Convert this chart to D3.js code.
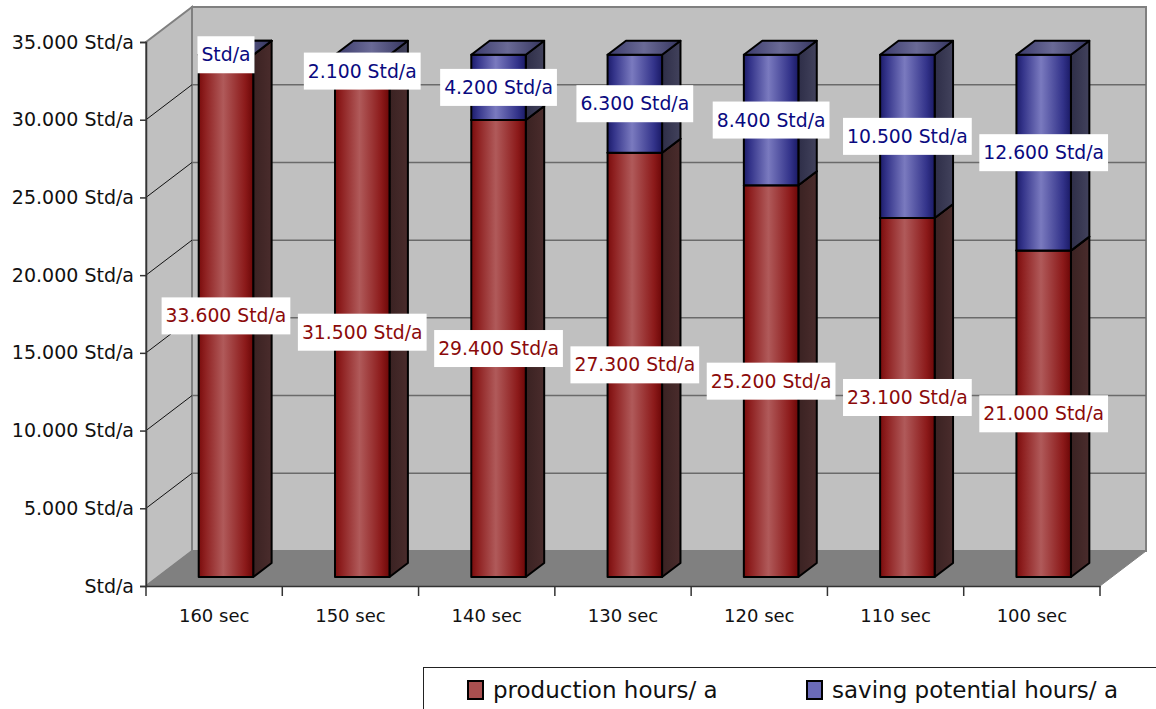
<!DOCTYPE html>
<html><head><meta charset="utf-8">
<script src="https://cdn.jsdelivr.net/npm/d3@7"></script>
<style>html,body{margin:0;padding:0;background:#fff;}svg{display:block;}</style>
</head><body>
<svg id="chart" width="1156" height="709"></svg>
<script>
const categories = ["160 sec","150 sec","140 sec","130 sec","120 sec","110 sec","100 sec"];
const production = [33600,31500,29400,27300,25200,23100,21000];
const saving = [0,2100,4200,6300,8400,10500,12600];
const yTicks = [0,5000,10000,15000,20000,25000,30000,35000];
const seriesNames = ["production hours/ a","saving potential hours/ a"];

(function () {
const svg = d3.select("#chart");
const FONT = "DejaVu Sans, Verdana, sans-serif";
const pLeft = 146, pRight = 1100, pTop = 42, pBottom = 586;
const DX = 46, DY = -35;           // full depth offset of the back wall
const d1 = 0.257, d2 = 0.657;      // bar front/back depth fractions

const x = d3.scaleBand().domain(categories).range([pLeft, pRight]).padding(0);
const y = d3.scaleLinear().domain([0, 35000]).range([pBottom, pTop]);
const P = (px, py, d) => [px + DX * d, py + DY * d];
const fmt = v => v === 0 ? "Std/a" : d3.format(",.0f")(v).replace(/,/g, ".") + " Std/a";
const pts = a => a.map(p => p.join(",")).join(" ");

// gradients
const defs = svg.append("defs");
function grad(id, stops) {
  const g = defs.append("linearGradient").attr("id", id).attr("x1", "0").attr("x2", "1").attr("y1", "0").attr("y2", "0");
  stops.forEach(s => g.append("stop").attr("offset", s[0]).attr("stop-color", s[1]));
}
grad("redFront", [[0,"#7a0c0c"],[0.12,"#8e2020"],[0.45,"#b05a5a"],[0.85,"#8c1a1a"],[1,"#6c0707"]]);
grad("blueFront", [[0,"#1c1c6a"],[0.12,"#34348a"],[0.45,"#7a7abf"],[0.85,"#33338a"],[1,"#1a1a66"]]);
grad("redSide", [[0,"#3a2222"],[1,"#4a2c2c"]]);
grad("blueSide", [[0,"#2e2e48"],[1,"#42425c"]]);
grad("redTop", [[0,"#6a2020"],[0.5,"#8a4a4a"],[1,"#5a1c1c"]]);
grad("blueTop", [[0,"#3a3a6a"],[0.5,"#6a6a96"],[1,"#34345e"]]);

// walls
const wallStroke = "#808080";
svg.append("polygon")
  .attr("points", pts([P(pLeft, pTop, 0), P(pLeft, pTop, 1), P(pLeft, pBottom, 1), P(pLeft, pBottom, 0)]))
  .attr("fill", "#c0c0c0").attr("stroke", wallStroke).attr("stroke-width", 2);
svg.append("polygon")
  .attr("points", pts([P(pLeft, pTop, 1), P(pRight, pTop, 1), P(pRight, pBottom, 1), P(pLeft, pBottom, 1)]))
  .attr("fill", "#c0c0c0").attr("stroke", wallStroke).attr("stroke-width", 2);
svg.append("polygon")
  .attr("points", pts([P(pLeft, pBottom, 0), P(pLeft, pBottom, 1), P(pRight, pBottom, 1), P(pRight, pBottom, 0)]))
  .attr("fill", "#808080").attr("stroke", wallStroke).attr("stroke-width", 1);

// gridlines
yTicks.filter(t => t > 0 && t < 35000).forEach(t => {
  const a = P(pLeft, y(t), 1), b = P(pRight, y(t), 1), c = P(pLeft, y(t), 0);
  svg.append("line").attr("x1", a[0]).attr("y1", a[1]).attr("x2", b[0]).attr("y2", b[1])
    .attr("stroke", "#6a6a6a").attr("stroke-width", 1.5);
  svg.append("line").attr("x1", c[0]).attr("y1", c[1]).attr("x2", a[0]).attr("y2", a[1])
    .attr("stroke", "#111").attr("stroke-width", 1);
});

// axes
const yAxis = d3.axisLeft(y).tickValues(yTicks).tickSize(6).tickPadding(6).tickFormat(fmt);
const gy = svg.append("g").attr("transform", `translate(${pLeft},0)`).call(yAxis);
gy.select(".domain").attr("stroke", "#333").attr("stroke-width", 1.5);
gy.selectAll(".tick line").attr("stroke", "#333").attr("stroke-width", 1.5);
gy.selectAll("text").attr("font-family", FONT).attr("font-size", 19).attr("fill", "#111");

const xAxis = d3.axisBottom(x).tickSize(0).tickPadding(23);
const gx = svg.append("g").attr("transform", `translate(0,${pBottom})`).call(xAxis);
gx.select(".domain").attr("stroke", "#333").attr("stroke-width", 1.5);
gx.selectAll("text").attr("font-family", FONT).attr("font-size", 18).attr("fill", "#111");
gx.selectAll(".bnd").data(categories.concat(["end"])).enter().append("line")
  .attr("x1", (d, i) => pLeft + i * x.bandwidth()).attr("x2", (d, i) => pLeft + i * x.bandwidth())
  .attr("y1", 0).attr("y2", 10).attr("stroke", "#333").attr("stroke-width", 1.5);

// bars
const bw = x.bandwidth() * 0.4;
const stacks = categories.map((c, i) => [
  {c, v0: 0, v1: production[i], s: 0, val: production[i]},
  {c, v0: production[i], v1: production[i] + saving[i], s: 1, val: saving[i]}
]);
const gBars = svg.append("g");
const faceIds = [["redFront","redSide","redTop"],["blueFront","blueSide","blueTop"]];
stacks.forEach(st => st.forEach(seg => {
  const x0 = x(seg.c) + x.bandwidth() * 0.3, x1 = x0 + bw;
  const yb = y(seg.v0), yt = y(seg.v1);
  const f = [P(x0, yt, d1), P(x1, yt, d1), P(x1, yb, d1), P(x0, yb, d1)];
  const side = [P(x1, yt, d1), P(x1, yt, d2), P(x1, yb, d2), P(x1, yb, d1)];
  const topF = [P(x0, yt, d1), P(x0, yt, d2), P(x1, yt, d2), P(x1, yt, d1)];
  const ids = faceIds[seg.s];
  gBars.append("polygon").attr("points", pts(side)).attr("fill", `url(#${ids[1]})`)
    .attr("stroke", "#000").attr("stroke-width", 2).attr("stroke-linejoin", "round");
  gBars.append("polygon").attr("points", pts(f)).attr("fill", `url(#${ids[0]})`)
    .attr("stroke", "#000").attr("stroke-width", 2).attr("stroke-linejoin", "round");
  gBars.append("polygon").attr("points", pts(topF)).attr("fill", `url(#${ids[2]})`)
    .attr("stroke", "#000").attr("stroke-width", 2).attr("stroke-linejoin", "round");
}));

// data labels
const gLab = svg.append("g");
stacks.forEach(st => st.forEach(seg => {
  const cx = x(seg.c) + x.bandwidth() * 0.3 + bw / 2 + DX * d1;
  const cy = (y(seg.v0) + y(seg.v1)) / 2 + DY * d1;
  const g = gLab.append("g");
  const t = g.append("text").attr("x", cx).attr("y", cy).attr("text-anchor", "middle")
    .attr("dominant-baseline", "central").attr("font-family", FONT).attr("font-size", 18.8)
    .attr("fill", seg.s === 0 ? "#8b0a0a" : "#0a0a80").text(fmt(seg.val));
  const bb = t.node().getBBox();
  g.insert("rect", "text").attr("x", cx - bb.width / 2 - 4).attr("y", cy - 18.5)
    .attr("width", bb.width + 8).attr("height", 37).attr("fill", "#fff");
}));

// legend
const lg = svg.append("g");
lg.append("rect").attr("x", 423.5).attr("y", 667.5).attr("width", 760).attr("height", 60)
  .attr("fill", "#fff").attr("stroke", "#222").attr("stroke-width", 1);
const legendX = [468, 807];
seriesNames.forEach((n, i) => {
  lg.append("rect").attr("x", legendX[i]).attr("y", 681).attr("width", 15).attr("height", 18)
    .attr("fill", i === 0 ? "#a85050" : "#6a6ab8").attr("stroke", "#000").attr("stroke-width", 2);
  lg.append("text").attr("x", legendX[i] + 25).attr("y", 698).attr("font-family", FONT)
    .attr("font-size", 23).attr("fill", "#111").text(n);
});
})();
</script>
</body></html>
